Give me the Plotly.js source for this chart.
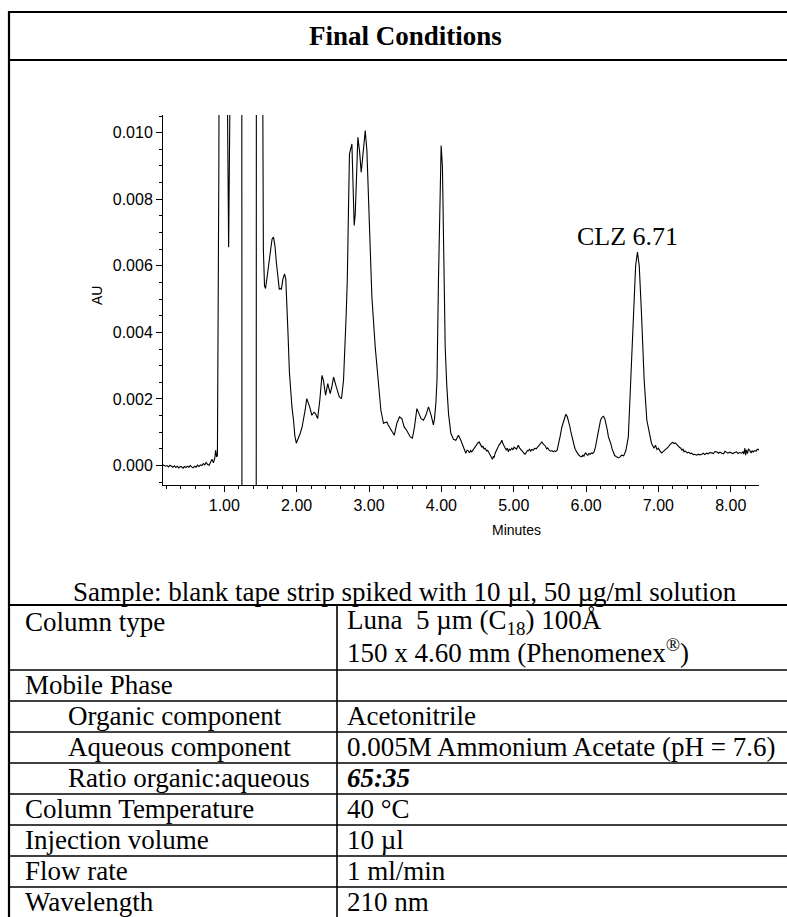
<!DOCTYPE html>
<html>
<head>
<meta charset="utf-8">
<script src="https://cdn.plot.ly/plotly-3.0.1.min.js"></script>
<style>
  html, body { margin: 0; padding: 0; background: #fff; }
  #chart { width: 787px; height: 917px; }
</style>
</head>
<body>
<div id="chart"></div>
<script>
// Chromatogram: retention time (minutes) and detector response (AU)
const minutes = [
  0.15, 0.17, 0.19, 0.21, 0.23, 0.25, 0.27, 0.29, 0.31, 0.33, 0.35, 0.37, 0.39, 0.41, 0.43, 0.45,
  0.47, 0.49, 0.51, 0.53, 0.55, 0.57, 0.59, 0.61, 0.63, 0.65, 0.67, 0.69, 0.71, 0.73, 0.75, 0.77,
  0.79, 0.81, 0.83, 0.85, 0.87, 0.88, 0.895, 0.905, 0.915, 0.925, 0.935,
  0.95, 1.0, 1.04, 1.055, 1.06, 1.07, 1.085, 1.1, 1.2, 1.24, 1.245, 1.3, 1.44, 1.446, 1.5, 1.525,
  1.54, 1.556, 1.57, 1.6, 1.63, 1.66, 1.68, 1.70, 1.72, 1.74, 1.76, 1.774, 1.79, 1.81, 1.833, 1.85,
  1.865, 1.88, 1.9, 1.92, 1.935, 1.957, 1.975, 1.995, 2.02, 2.05, 2.075, 2.095, 2.12, 2.14, 2.16,
  2.18, 2.21, 2.24, 2.26, 2.29, 2.32, 2.35, 2.37, 2.40, 2.43, 2.464, 2.49, 2.51, 2.548, 2.59, 2.62,
  2.648, 2.685, 2.70, 2.715, 2.73, 2.764, 2.78, 2.795, 2.81, 2.83, 2.846, 2.869, 2.892, 2.91, 2.93,
  2.948, 2.971, 2.995, 3.017, 3.04, 3.086, 3.13, 3.164, 3.2, 3.225, 3.247, 3.265, 3.283, 3.31, 3.33,
  3.35, 3.385, 3.421, 3.454, 3.486, 3.52, 3.545, 3.57, 3.6, 3.629, 3.662, 3.694, 3.72, 3.753, 3.785,
  3.822, 3.86, 3.89, 3.905, 3.925, 3.94, 3.96, 3.983, 3.997, 4.015, 4.035, 4.053, 4.075, 4.099, 4.131,
  4.167, 4.2, 4.236, 4.269, 4.305, 4.32, 4.338, 4.355, 4.374, 4.39, 4.405, 4.42, 4.44, 4.455, 4.467,
  4.49, 4.505, 4.522, 4.54, 4.559, 4.575, 4.59, 4.605, 4.625, 4.64, 4.651, 4.67, 4.685, 4.695, 4.706,
  4.72, 4.73, 4.743, 4.76, 4.78, 4.80, 4.82, 4.836, 4.85, 4.865, 4.882, 4.895, 4.91, 4.927, 4.94,
  4.955, 4.974, 4.99, 5.005, 5.02, 5.04, 5.055, 5.065, 5.08, 5.095, 5.111, 5.13, 5.145, 5.157, 5.175,
  5.19, 5.2, 5.22, 5.235, 5.25, 5.27, 5.29, 5.31, 5.33, 5.35, 5.37, 5.39, 5.41, 5.425, 5.44, 5.455,
  5.47, 5.49, 5.51, 5.53, 5.548, 5.565, 5.58, 5.6, 5.62, 5.64, 5.665, 5.69, 5.705, 5.72, 5.74, 5.757,
  5.775, 5.79, 5.81, 5.825, 5.845, 5.87, 5.89, 5.905, 5.92, 5.94, 5.955, 5.97, 5.985, 5.995, 6.01,
  6.025, 6.04, 6.055, 6.075, 6.09, 6.11, 6.13, 6.156, 6.18, 6.2, 6.22, 6.24, 6.26, 6.277, 6.295,
  6.309, 6.325, 6.34, 6.36, 6.377, 6.395, 6.415, 6.43, 6.45, 6.47, 6.49, 6.52, 6.55, 6.584, 6.617,
  6.657, 6.685, 6.71, 6.735, 6.766, 6.803, 6.84, 6.872, 6.904, 6.94, 6.96, 6.98, 7.0, 7.02, 7.045,
  7.065, 7.09, 7.11, 7.137, 7.16, 7.18, 7.197, 7.215, 7.235, 7.25, 7.27, 7.29, 7.308, 7.325, 7.34,
  7.354, 7.37, 7.385, 7.40, 7.42, 7.44, 7.46, 7.48, 7.5, 7.53, 7.55, 7.57, 7.6, 7.62, 7.64, 7.667,
  7.69, 7.71, 7.736, 7.76, 7.78, 7.805, 7.83, 7.85, 7.875, 7.9, 7.92, 7.94, 7.96, 7.985, 8.01, 8.03,
  8.055, 8.08, 8.1, 8.12, 8.15, 8.17, 8.18, 8.195, 8.205, 8.215, 8.23, 8.245, 8.26, 8.28, 8.295, 8.31,
  8.33, 8.35, 8.365, 8.38, 8.39
];
const absorbance = [
  0.00002, 0.00001, -0.00002, 0.00000, -0.00004, 0.00001, -0.00003, -0.00005, -0.00001, -0.00006, -0.00002, -0.00007, -0.00003, -0.00004, -0.00008, -0.00003,
  -0.00006, -0.00002, -0.00005, 0.00000, -0.00004, -0.00007, -0.00002, -0.00005, 0.00001, -0.00003, 0.00002, 0.00000, 0.00006, 0.00002, 0.00009, 0.00003,
  0.00001, 0.00012, 0.00019, 0.00008, 0.00024, 0.00046, 0.00026, 0.00030, 0.0039, 0.009, 0.02,
  0.03, 0.03, 0.012, 0.0068, 0.00656, 0.009, 0.02, 0.04, 0.04, 0.03, -0.01, -0.01, -0.01, 0.03, 0.03, 0.015,
  0.0065, 0.0054, 0.00532, 0.0058, 0.0063, 0.0068, 0.00686, 0.0066, 0.0061, 0.0056, 0.0053, 0.00532, 0.0053, 0.0056, 0.00576, 0.0056,
  0.0050, 0.0040, 0.0028, 0.0021, 0.00176, 0.00136, 0.0009, 0.00067, 0.0008, 0.00097, 0.00115, 0.00136, 0.0017, 0.00201, 0.0019,
  0.00176, 0.00151, 0.0016, 0.00156, 0.00141, 0.00196, 0.00271, 0.00256, 0.00211, 0.00246, 0.00216, 0.0024, 0.00266, 0.00236, 0.00206, 0.00201,
  0.00256, 0.00456, 0.00556, 0.0075, 0.00936, 0.00966, 0.0085, 0.00721, 0.00756, 0.0092, 0.00986, 0.00946, 0.00881, 0.0092, 0.0098,
  0.01006, 0.00946, 0.0078, 0.0062, 0.00506, 0.00356, 0.00256, 0.00166, 0.00127, 0.00128, 0.00131, 0.00122, 0.00116, 0.00104, 0.00097,
  0.00091, 0.00127, 0.00146, 0.00141, 0.00116, 0.00106, 0.00095, 0.00086, 0.00082, 0.00116, 0.00171, 0.00156, 0.00141, 0.00136, 0.00150,
  0.00176, 0.00150, 0.00122, 0.0014, 0.0019, 0.00256, 0.00556, 0.00896, 0.00961, 0.00896, 0.0060, 0.00356, 0.0024, 0.00156, 0.00097,
  0.00079, 0.00076, 0.00091, 0.00076, 0.00052, 0.00044, 0.00037, 0.00046, 0.00044, 0.00038, 0.00045, 0.00041, 0.00048, 0.00052, 0.00056,
  0.00062, 0.00068, 0.00071, 0.00063, 0.00056, 0.00058, 0.00050, 0.00052, 0.00044, 0.00046, 0.00041, 0.00034, 0.00030, 0.00022, 0.00019,
  0.00028, 0.00024, 0.00037, 0.00046, 0.00056, 0.00063, 0.00068, 0.00076, 0.00066, 0.00060, 0.00056, 0.00047, 0.00052, 0.00041, 0.00050,
  0.00046, 0.00052, 0.00047, 0.00055, 0.00052, 0.00049, 0.00058, 0.00061, 0.00053, 0.00050, 0.00046, 0.00040, 0.00036, 0.00034, 0.00040,
  0.00045, 0.00044, 0.00049, 0.00043, 0.00048, 0.00046, 0.00052, 0.00050, 0.00056, 0.00062, 0.00066, 0.00071, 0.00064, 0.00060, 0.00058, 0.00050,
  0.00053, 0.00046, 0.00043, 0.00045, 0.00041, 0.00044, 0.00042, 0.00046, 0.00062, 0.00086, 0.00115, 0.00136, 0.00150, 0.00154, 0.00147, 0.00136,
  0.00118, 0.00101, 0.00082, 0.00067, 0.00052, 0.00041, 0.00034, 0.00030, 0.00028, 0.00026, 0.00031, 0.00028, 0.00036, 0.00038, 0.00033,
  0.00031, 0.00036, 0.00034, 0.00038, 0.00036, 0.00041, 0.00055, 0.00086, 0.00115, 0.00136, 0.00145, 0.00148, 0.00140, 0.00127, 0.00105,
  0.00086, 0.00078, 0.00067, 0.00050, 0.00037, 0.00030, 0.00027, 0.00024, 0.00023, 0.00026, 0.00031, 0.00029, 0.00045, 0.00086, 0.00256,
  0.00456, 0.0060, 0.00641, 0.0060, 0.00456, 0.00256, 0.00136, 0.00097, 0.00067, 0.00052, 0.00061, 0.00048, 0.00052, 0.00044, 0.00038,
  0.00042, 0.00046, 0.00050, 0.00056, 0.00063, 0.00068, 0.00070, 0.00066, 0.00068, 0.00064, 0.00058, 0.00055, 0.00052, 0.00046, 0.00049,
  0.00041, 0.00044, 0.00042, 0.00038, 0.00040, 0.00036, 0.00037, 0.00033, 0.00034, 0.00031, 0.00034, 0.00032, 0.00034, 0.00037, 0.00033, 0.00037,
  0.00035, 0.00039, 0.00038, 0.00036, 0.00042, 0.00041, 0.00037, 0.00040, 0.00037, 0.00035, 0.00043, 0.00041, 0.00037, 0.00040, 0.00038, 0.00036,
  0.00039, 0.00041, 0.00036, 0.00039, 0.00037, 0.00042, 0.00034, 0.00052, 0.00031, 0.00047, 0.00036, 0.00050, 0.00046, 0.00038, 0.00044, 0.00041,
  0.00045, 0.00043, 0.00049, 0.00047, 0.00050
];

// Labelled peak
const peakName = 'CLZ';
const peakTime = 6.71;

// Method table
const tableTitle = 'Final Conditions';
const sampleNote = 'Sample: blank tape strip spiked with 10 \u00b5l, 50 \u00b5g/ml solution';
const paramNames = ['Column type', '', 'Mobile Phase', 'Organic component', 'Aqueous component',
  'Ratio organic:aqueous', 'Column Temperature', 'Injection volume', 'Flow rate', 'Wavelength'];
const paramIndented = [false, false, false, true, true, true, false, false, false, false];
const paramValues = ['Luna\u00a0 5 \u00b5m (C<sub>18</sub>) 100\u00c5', '150 x 4.60 mm (Phenomenex<sup>\u00ae</sup>)', '',
  'Acetonitrile', '0.005M Ammonium Acetate (pH = 7.6)', '<b><i>65:35</i></b>', '40 \u00b0C', '10 \u00b5l', '1 ml/min', '210 nm'];

// ---- page geometry (pixels) ----
const W = 787, H = 917;
const fx = p => p / W;          // pixel x -> paper
const fy = p => 1 - p / H;      // pixel y -> paper
const plotBox = {left: 163, right: 759, top: 115, bottom: 485};
const serif = 'Liberation Serif, Times New Roman, serif';
const sans = 'Liberation Sans, Arial, sans-serif';

// text line centres for each parameter line, and the table rules
const lineY = [622, 651, 685, 716, 747, 778, 809, 840, 871, 901.5];
const ruleY = [605, 670, 701, 732, 763, 794, 825, 856, 887, 921];
const colX = 337;

const shapes = [];
function hline(y, x0, x1, w) {
  shapes.push({type: 'line', xref: 'paper', yref: 'paper', x0: fx(x0), x1: fx(x1), y0: fy(y), y1: fy(y),
    line: {color: '#000', width: w}});
}
function vline(x, y0, y1, w) {
  shapes.push({type: 'line', xref: 'paper', yref: 'paper', x0: fx(x), x1: fx(x), y0: fy(y0), y1: fy(y1),
    line: {color: '#000', width: w}});
}
// outer frame and title rule
hline(12, 9, 800, 2.2);
hline(60, 9, 800, 2.2);
vline(9, 11, 930, 2.2);
// table rules
ruleY.forEach((y, i) => hline(y, 9, 800, i === 0 ? 2 : 1.6));
vline(colX, ruleY[0], 930, 1.6);

const annotations = [];
function label(text, x, y, size, opts) {
  annotations.push(Object.assign({
    text: text, xref: 'paper', yref: 'paper', x: fx(x), y: fy(y),
    xanchor: 'left', yanchor: 'middle', showarrow: false,
    font: {family: serif, size: size, color: '#000'}
  }, opts || {}));
}

label('<b>' + tableTitle + '</b>', 405, 36, 27, {xanchor: 'center'});
label(sampleNote, 405, 592, 27, {xanchor: 'center'});
paramNames.forEach((name, i) => {
  if (name) label(name, paramIndented[i] ? 66 : 23, lineY[i], 27);
  if (paramValues[i]) label(paramValues[i], 345, lineY[i], 27);
});

// axis captions and peak label
label('Minutes', 516, 530, 14, {xanchor: 'center', font: {family: sans, size: 14, color: '#000'}});
label('AU', 97, 296, 14, {xanchor: 'center', textangle: -90, font: {family: sans, size: 14, color: '#000'}});
label(peakName + ' ' + peakTime.toFixed(2), 627, 236, 26, {xanchor: 'center'});

const trace = {
  x: minutes, y: absorbance, type: 'scatter', mode: 'lines',
  line: {color: '#000', width: 1.1}, hoverinfo: 'skip'
};

const axisCommon = {
  showgrid: false, zeroline: false, showline: true, linecolor: '#000', linewidth: 1,
  ticks: 'outside', ticklen: 6, tickwidth: 1, tickcolor: '#000',
  tickfont: {family: sans, size: 16, color: '#000'}
};

const layout = {
  width: W, height: H,
  margin: {l: 0, r: 0, t: 0, b: 0},
  paper_bgcolor: '#fff', plot_bgcolor: '#fff',
  showlegend: false,
  xaxis: Object.assign({}, axisCommon, {
    domain: [fx(plotBox.left), fx(plotBox.right)],
    range: [0.153, 8.39], tick0: 0, dtick: 1, tickformat: '.2f',
    minor: {dtick: 0.2, ticks: 'outside', ticklen: 3, tickwidth: 1, tickcolor: '#000', showgrid: false}
  }),
  yaxis: Object.assign({}, axisCommon, {
    domain: [fy(plotBox.bottom), fy(plotBox.top)],
    range: [-0.000585, 0.01053], tick0: 0, dtick: 0.002, tickformat: '.3f',
    minor: {dtick: 0.0005, ticks: 'outside', ticklen: 3, tickwidth: 1, tickcolor: '#000', showgrid: false}
  }),
  shapes: shapes,
  annotations: annotations
};

Plotly.newPlot('chart', [trace], layout, {staticPlot: true, displayModeBar: false});
</script>
</body>
</html>
